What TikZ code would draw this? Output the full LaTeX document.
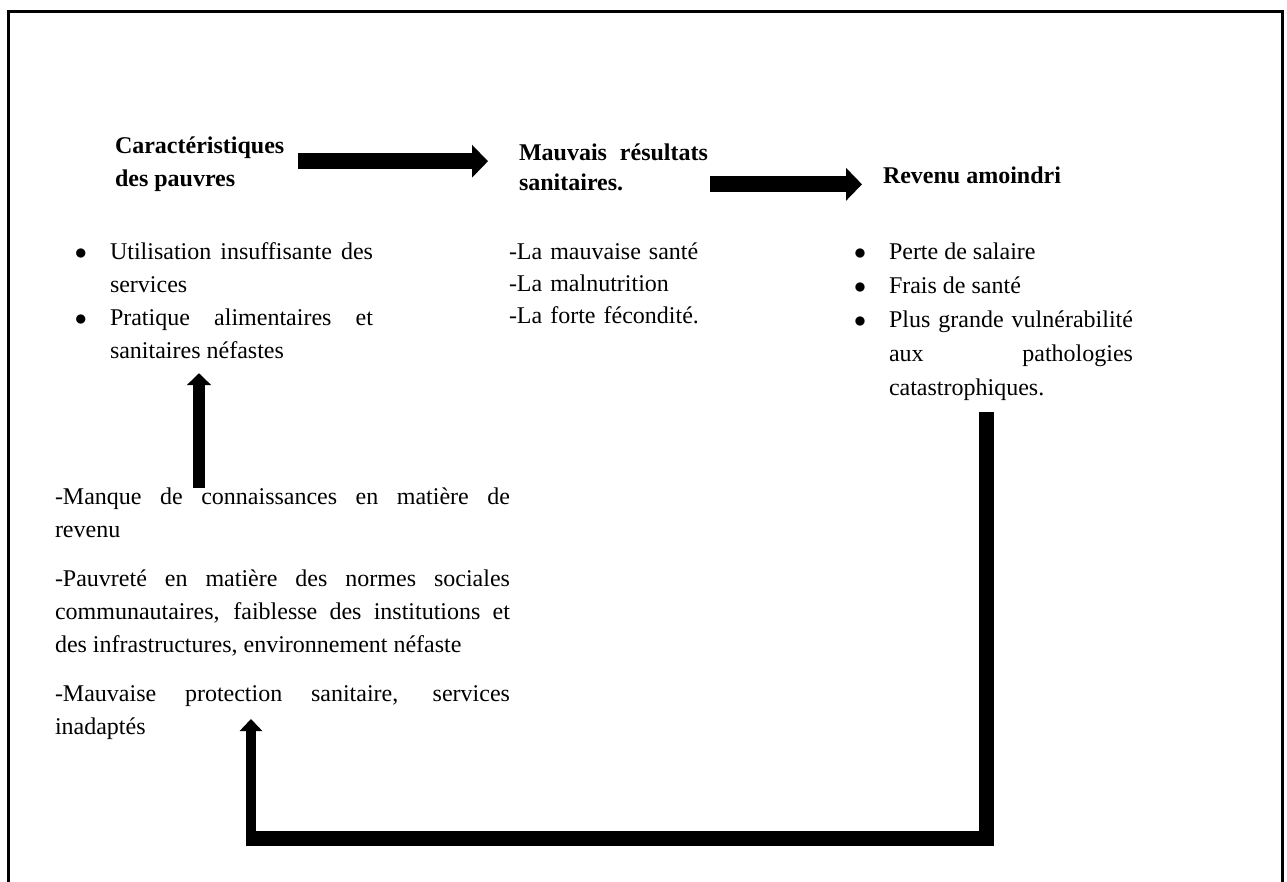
\documentclass[tikz,border=0pt]{standalone}
\usepackage{fontspec}
\setmainfont{Liberation Serif}
\usetikzlibrary{arrows.meta, positioning}

\newcommand{\puce}{\makebox[17.5pt][l]{$\bullet$}}
\newcommand{\retrait}{\hspace*{17.5pt}}

\begin{document}
\begin{tikzpicture}[x=0.5pt, y=-0.5pt,
  every node/.style={inner sep=0pt, outer sep=0pt, anchor=base west, font=\fontsize{12pt}{16.5pt}\selectfont},
  titre/.style={font=\fontsize{12pt}{16.5pt}\selectfont\bfseries, align=justify},
  liste/.style={align=justify},
  fatarrow/.style={line width=8pt, -{Triangle[length=8pt, width=16pt]}},
  uparrow/.style={line width=6pt, -{Triangle[length=6pt, width=12pt]}},
  loopline/.style={line width=7.5pt, line join=miter},
  looparrow/.style={line width=5pt, -{Triangle[length=6pt, width=11pt]}}]
  \useasboundingbox (0,0) rectangle (1287,882);
  % cadre ouvert en bas
  \draw[line width=1.5pt] (8,882) -- (8,12) -- (1282,12) -- (1282,882);
  % titres
  \node[titre, text width=86pt] (carac) at (115,154) {Caractéristiques \linebreak des pauvres};
  \node[titre, text width=94.5pt, font=\fontsize{12pt}{15pt}\selectfont\bfseries] (mauvais) at (519,161) {Mauvais résultats \linebreak sanitaires.};
  \node[titre, text width=110pt] (revenu) at (883,184) {Revenu amoindri};
  % listes
  \node[liste, text width=149pt] (carlist) at (75,260) {\puce Utilisation insuffisante des \linebreak
    \retrait services\par
    \puce Pratique alimentaires et \linebreak
    \retrait sanitaires néfastes};
  \node[text width=110pt, align=left, font=\fontsize{12pt}{16pt}\selectfont] (maulist) at (509,260) {-La mauvaise santé\\-La malnutrition\\-La forte fécondité.};
  \node[liste, text width=139.5pt, font=\fontsize{12pt}{17pt}\selectfont] (revlist) at (854,260) {\puce Perte de salaire\par
    \puce Frais de santé\par
    \puce Plus grande vulnérabilité \linebreak
    \retrait aux pathologies \linebreak
    \retrait catastrophiques.};
  \node[liste, text width=227.5pt] (causes) at (55,505) {-Manque de connaissances en matière de \linebreak revenu\par\vspace{8pt}
    -Pauvreté en matière des normes sociales \linebreak communautaires, faiblesse des institutions et \linebreak des infrastructures, environnement néfaste\par\vspace{8pt}
    -Mauvaise protection sanitaire, services \linebreak inadaptés};
  % fleches
  \draw[fatarrow, shorten >=15.5pt] ([xshift=5.5pt, yshift=1.75pt]carac.east) -- ([yshift=1.75pt]carac.east -| mauvais.west);
  \draw[fatarrow, shorten >=10.5pt] ([xshift=1pt, yshift=-8.25pt]mauvais.east) -- ([yshift=-8.25pt]mauvais.east -| revenu.west);
  \draw[uparrow, shorten >=7pt] (causes.north -| 199,0) -- (carlist.south -| 199,0);
  % boucle de retour
  \coordinate (loopcorner) at (246,838);
  \coordinate (loopend) at (251,719);
  \draw[loopline] ([xshift=-3.75pt, yshift=-5.5pt]revlist.south) |- (loopcorner);
  \draw[looparrow] (loopend |- 0,846) -- (loopend);
\end{tikzpicture}
\end{document}
